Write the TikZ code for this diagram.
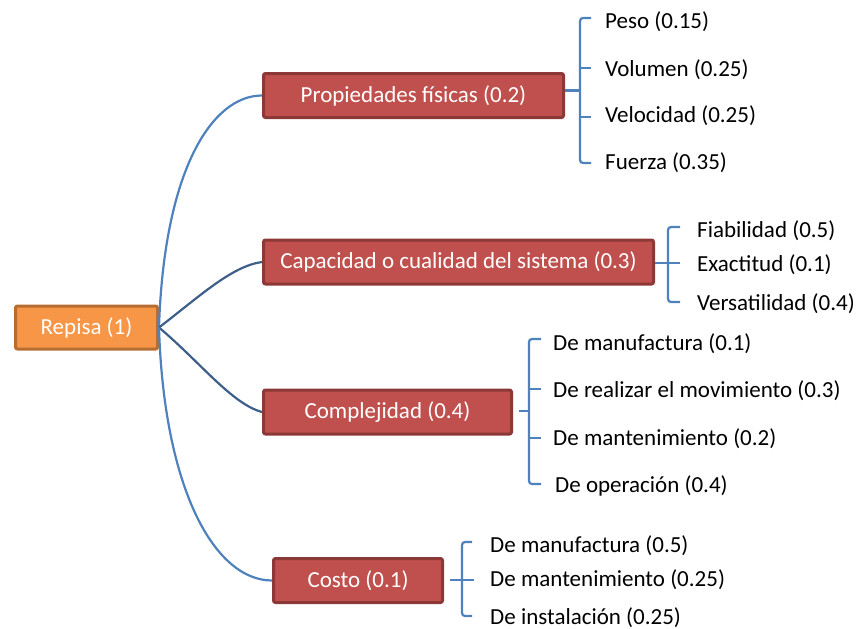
\documentclass[tikz,border=0pt]{standalone}
\usepackage{fontspec}
\setmainfont{Carlito}
\definecolor{redfill}{HTML}{C0504D}
\definecolor{redline}{HTML}{8C3836}
\definecolor{orfill}{HTML}{F79646}
\definecolor{orline}{HTML}{B66D31}
\definecolor{lblue}{HTML}{4F81BD}
\definecolor{dblue}{HTML}{3D5F8A}
\begin{document}
\begin{tikzpicture}[x=1pt,y=-1pt,
  every node/.style={font=\fontsize{23}{27}\selectfont, inner sep=0pt},
  rootbox/.style={draw=orline, fill=orfill, line width=3pt, rounded corners=2pt, text=white, minimum height=43pt},
  catbox/.style={draw=redline, fill=redfill, line width=3pt, rounded corners=2pt, text=white, minimum height=44pt},
  leaf/.style={anchor=west, text=black, yshift=-1.5pt},
  curveconn/.style={draw=lblue, line width=2.2pt},
  midconn/.style={draw=dblue, line width=2.2pt},
  brk/.style={draw=lblue, line width=2.2pt}
]
\useasboundingbox (0,0) rectangle (857,629);

% root
\node[rootbox, minimum width=142pt] (root) at (86.5,327.5) {Repisa (1)};

% categories
\node[catbox, minimum width=300pt] (prop) at (413.5,95.5) {Propiedades físicas (0.2)};
\node[catbox, minimum width=390pt] (cap) at (458.5,262) {Capacidad o cualidad del sistema (0.3)};
\node[catbox, minimum width=248pt] (comp) at (387.5,412) {Complejidad (0.4)};
\node[catbox, minimum width=169pt] (cost) at (358,580.5) {Costo (0.1)};

% connectors from root
\draw[curveconn] (root.east) .. controls (164,170) and (212,95.5) .. (prop.west);
\draw[midconn] (root.east) .. controls (200,296) and (232,266) .. (cap.west);
\draw[midconn] (root.east) .. controls (200,362) and (232,404) .. (comp.west);
\draw[curveconn] (root.east) .. controls (164,490) and (215,580.5) .. (cost.west);

% leaves: Propiedades
\node[leaf] (p1) at (605,20) {Peso (0.15)};
\node[leaf] (p2) at (605,68) {Volumen (0.25)};
\node[leaf] (p3) at (605,114) {Velocidad (0.25)};
\node[leaf] (p4) at (605,161) {Fuerza (0.35)};
\coordinate (pb) at (580,90.5);
\draw[brk, rounded corners=3pt] (591,18) -- (580,18) -- (580,163) -- (591,163);
\draw[brk] (580,68) -- (591,68);
\draw[brk] (580,117) -- (591,117);
\draw[brk] (prop.east |- pb) -- (pb);

% leaves: Capacidad
\node[leaf] (c1) at (697,229) {Fiabilidad (0.5)};
\node[leaf] (c2) at (697,263) {Exactitud (0.1)};
\node[leaf] (c3) at (697,302) {Versatilidad (0.4)};
\coordinate (cb) at (668,263);
\draw[brk, rounded corners=3pt] (680,227) -- (668,227) -- (668,302) -- (680,302);
\draw[brk] (cap.east |- cb) -- (680,263);

% leaves: Complejidad
\node[leaf] (k1) at (553,342) {De manufactura (0.1)};
\node[leaf] (k2) at (553,389) {De realizar el movimiento (0.3)};
\node[leaf] (k3) at (553,437) {De mantenimiento (0.2)};
\node[leaf] (k4) at (555,484) {De operación (0.4)};
\coordinate (kb) at (529,411);
\draw[brk, rounded corners=3pt] (541,339) -- (529,339) -- (529,484) -- (541,484);
\draw[brk] (529,389) -- (541,389);
\draw[brk] (529,438) -- (541,438);
\draw[brk] ([xshift=6pt]comp.east |- kb) -- (kb);

% leaves: Costo
\node[leaf] (s1) at (490,544) {De manufactura (0.5)};
\node[leaf] (s2) at (490,578) {De mantenimiento (0.25)};
\node[leaf] (s3) at (490,616) {De instalación (0.25)};
\coordinate (sb) at (462,580);
\draw[brk, rounded corners=3pt] (472,542) -- (462,542) -- (462,616) -- (472,616);
\draw[brk] ([xshift=6pt]cost.east |- sb) -- (474,580);
\end{tikzpicture}
\end{document}
